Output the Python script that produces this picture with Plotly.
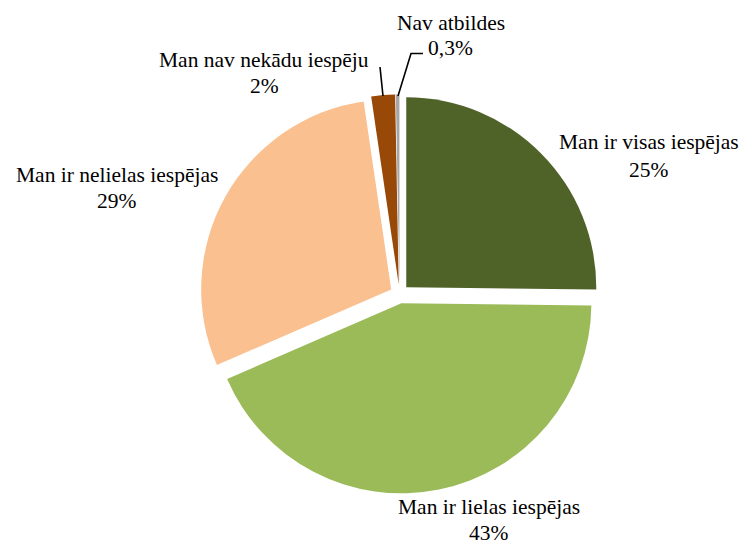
import plotly.graph_objects as go

labels = ["Man ir visas iespējas", "Man ir lielas iespējas", "Man ir nelielas iespējas",
          "Man nav nekādu iespēju", "Nav atbildes"]
values = [25, 43, 29, 2, 0.3]
pct_text = ["25%", "43%", "29%", "2%", "0,3%"]
colors = ["#4F6228", "#9BBB59", "#FAC090", "#984807", "#A6A6A6"]

W, H = 744, 542
FONT = "Liberation Serif"


def px(x, y):
    return x / W, 1 - y / H


cx, cy, half = 399.5, 294, 199.5
fig = go.Figure(go.Pie(
    labels=labels, values=values, sort=False, direction="clockwise", rotation=0,
    marker=dict(colors=colors, line=dict(color="white", width=0)),
    pull=[0.05] * len(values), textinfo="none", hoverinfo="label+percent",
    domain=dict(x=[(cx - half) / W, (cx + half) / W], y=[1 - (cy + half) / H, 1 - (cy - half) / H]),
    showlegend=False,
))

# (x center, y of name line, y of percent line) in pixels
label_pos = [(649, 141.7, 170), (489, 507, 532.5), (117, 174.7, 201), (264, 60, 86.3), (450.5, 23, 48.3)]
for lab, pt, (x, y1, y2) in zip(labels, pct_text, label_pos):
    for txt, y in ((lab, y1), (pt, y2)):
        ax, ay = px(x, y)
        fig.add_annotation(x=ax, y=ay, xref="paper", yref="paper", text=txt,
                           showarrow=False, xanchor="center", yanchor="middle", align="center",
                           font=dict(family=FONT, size=21.5, color="black"))


def seg(p):
    return " ".join(("M" if i == 0 else "L") + f"{p[i][0]/W},{1-p[i][1]/H}" for i in range(len(p)))


# leader lines
fig.add_shape(type="path", xref="paper", yref="paper", path=seg([(383, 96), (380, 67)]),
              line=dict(color="black", width=1.6))
fig.add_shape(type="path", xref="paper", yref="paper", path=seg([(398, 96), (411, 53.5), (423, 53.5)]),
              line=dict(color="black", width=1.6))

fig.update_layout(width=W, height=H, margin=dict(l=0, r=0, t=0, b=0),
                  paper_bgcolor="white", plot_bgcolor="white")
fig.write_html("out.html", config={"displayModeBar": False},
               post_script="document.body.style.margin='0';document.body.style.overflow='hidden';")
